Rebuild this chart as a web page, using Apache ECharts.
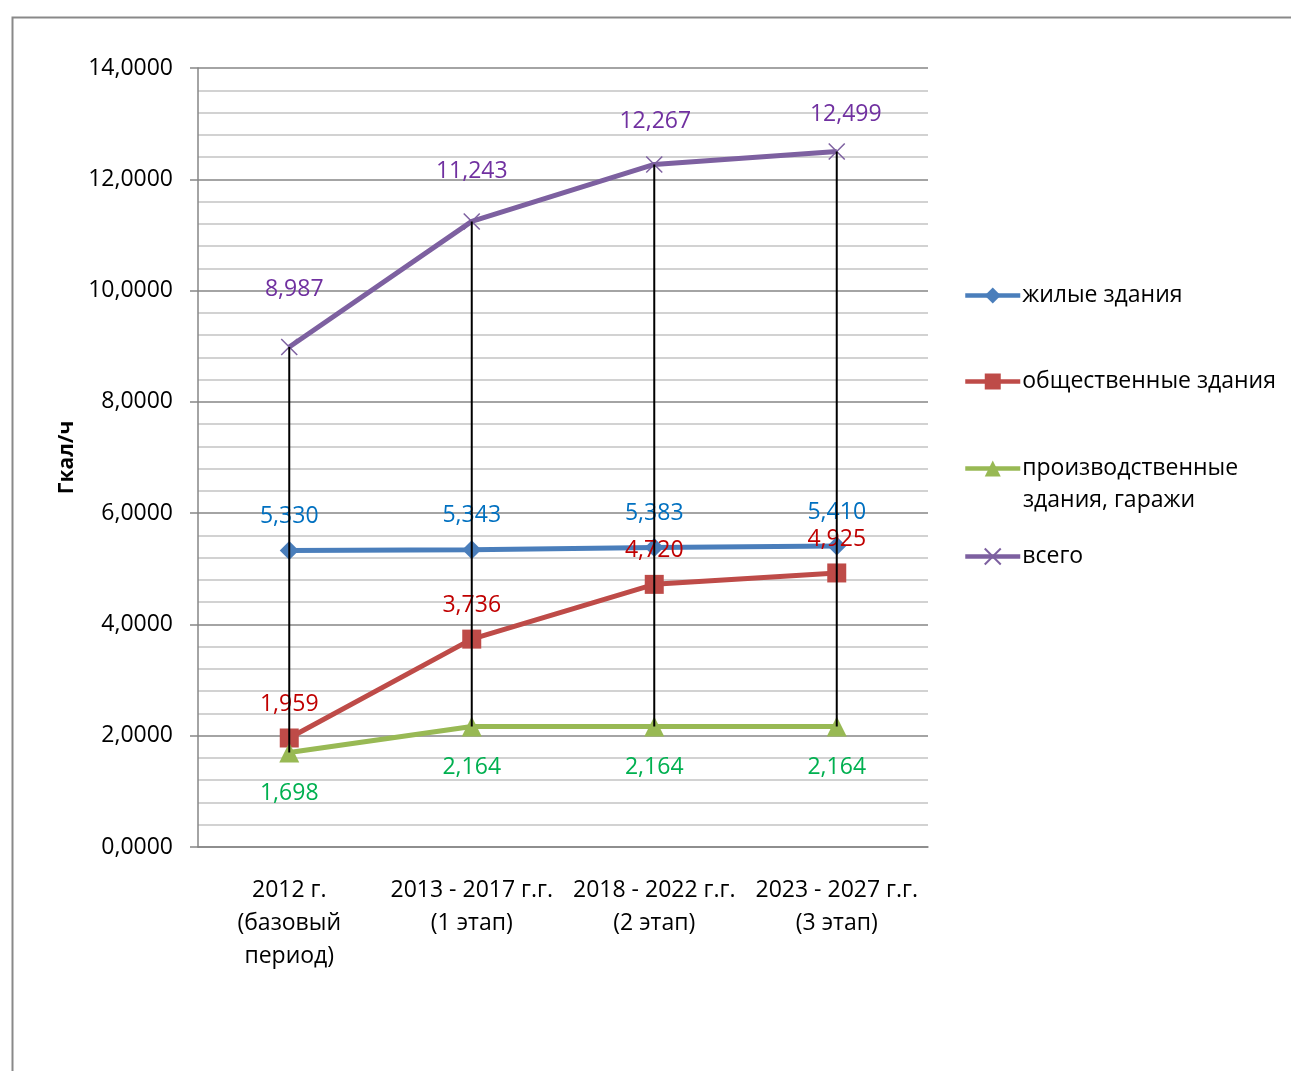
<!DOCTYPE html>
<html>
<head>
<meta charset="utf-8">
<script src="https://cdn.jsdelivr.net/npm/echarts@6/dist/echarts.min.js"></script>
<style>
  html, body { margin: 0; padding: 0; background: #fff; }
  #chart { width: 1291px; height: 1071px; }
</style>
</head>
<body>
<div id="chart"></div>
<script>
// Тепловая нагрузка по периодам, Гкал/ч
const categories = [
  '2012 г.\n(базовый\nпериод)',
  '2013 - 2017 г.г.\n(1 этап)',
  '2018 - 2022 г.г.\n(2 этап)',
  '2023 - 2027 г.г.\n(3 этап)'
];
const residential = [5.330, 5.343, 5.383, 5.410];
const publicBuildings = [1.959, 3.736, 4.720, 4.925];
const industrial = [1.698, 2.164, 2.164, 2.164];
const total = [8.987, 11.243, 12.267, 12.499];

const seriesNames = [
  'жилые здания',
  'общественные здания',
  'производственные здания, гаражи',
  'всего'
];

// label shifts for the "всего" values
const totalLabelOffsets = [[5, -57], [0, -50], [1, -43], [9, -37]];

const FONT = '"Open Sans", "Noto Sans", sans-serif';
const FS = 23;
const fmt3 = v => v.toFixed(3).replace('.', ',');
const fmt4 = v => v.toFixed(4).replace('.', ',');

const all = [residential, publicBuildings, industrial, total];
const hiLo = categories.map((c, i) => {
  const vals = all.map(s => s[i]);
  return [i, Math.max(...vals), Math.min(...vals)];
});

function lineSeries(name, data, color, labelColor, symbol, symbolSize, offset) {
  return {
    name: name,
    type: 'line',
    data: data,
    symbol: symbol,
    symbolSize: symbolSize,
    lineStyle: { color: color, width: 5 },
    itemStyle: { color: color },
    label: {
      show: true,
      position: 'inside',
      offset: offset,
      color: labelColor,
      fontFamily: FONT,
      fontSize: FS,
      formatter: p => fmt3(p.value)
    },
    z: 3
  };
}

const legendBase = {
  orient: 'vertical',
  left: 963,
  padding: 0,
  itemWidth: 55,
  itemHeight: 20,
  itemGap: 4,
  lineStyle: { width: 4.5 },
  textStyle: { fontFamily: FONT, fontSize: FS, color: '#000', padding: [0, 0, 0, -3] },
  selectedMode: false
};

const chart = echarts.init(document.getElementById('chart'));
chart.setOption({
  animation: false,
  backgroundColor: '#fff',
  grid: { left: 198, right: 363, top: 68, bottom: 224 },
  graphic: [
    {
      type: 'rect',
      left: 10, top: 15,
      shape: { width: 1400, height: 1200 },
      style: { fill: 'none', stroke: '#898989', lineWidth: 2 },
      z: -1
    },
    {
      type: 'text',
      left: 1023, top: 489,
      style: { text: 'здания, гаражи', font: FS + 'px ' + FONT, fill: '#000' }
    }
  ],
  legend: [
    Object.assign({}, legendBase, { top: 284, data: [seriesNames[0]] }),
    Object.assign({}, legendBase, { top: 370, data: [seriesNames[1]] }),
    Object.assign({}, legendBase, { top: 457, data: [seriesNames[2]], formatter: () => 'производственные' }),
    Object.assign({}, legendBase, { top: 545, data: [seriesNames[3]] })
  ],
  xAxis: {
    type: 'category',
    data: categories,
    boundaryGap: true,
    axisLine: { lineStyle: { color: '#868686', width: 1.5 } },
    axisTick: { show: false },
    axisLabel: {
      interval: 0,
      margin: 27,
      color: '#000',
      fontFamily: FONT,
      fontSize: FS,
      lineHeight: 33
    }
  },
  yAxis: {
    type: 'value',
    min: 0,
    max: 14,
    interval: 2,
    name: 'Гкал/ч',
    nameLocation: 'middle',
    nameGap: 117,
    nameTextStyle: { fontFamily: FONT, fontSize: 21, fontWeight: 'bold', color: '#000' },
    axisLine: { show: true, lineStyle: { color: '#868686', width: 1.5 } },
    axisTick: { show: true, inside: false, length: 8, lineStyle: { color: '#868686', width: 1.5 } },
    axisLabel: {
      margin: 25,
      color: '#000',
      fontFamily: FONT,
      fontSize: FS,
      formatter: v => fmt4(v)
    },
    splitLine: { show: true, lineStyle: { color: '#868686', width: 1.5 } },
    minorTick: { show: false, splitNumber: 5 },
    minorSplitLine: { show: true, lineStyle: { color: '#c4c4c4', width: 1.5 } }
  },
  series: [
    lineSeries(seriesNames[0], residential, '#4a7ebb', '#0070c0', 'diamond', 19, [0, -34]),
    lineSeries(seriesNames[1], publicBuildings, '#be4b48', '#c00000', 'rect', 19, [0, -34]),
    lineSeries(seriesNames[2], industrial, '#98b954', '#00b050', 'triangle', 20, [0, 41]),
    Object.assign(
      lineSeries(seriesNames[3], total.map((v, i) => ({
        value: v,
        label: { offset: totalLabelOffsets[i] }
      })), '#7d60a0', '#7030a0', 'path://M0,0L10,10M10,0L0,10', 16, [0, -46]),
      {
        itemStyle: { color: '#7d60a0', borderColor: '#7d60a0', borderWidth: 1.5 }
      }
    ),
    {
      type: 'custom',
      name: 'hilo',
      silent: true,
      z: 10,
      data: hiLo,
      encode: { x: 0, y: [1, 2] },
      renderItem: (params, api) => {
        const top = api.coord([api.value(0), api.value(1)]);
        const bottom = api.coord([api.value(0), api.value(2)]);
        return {
          type: 'line',
          shape: { x1: top[0], y1: top[1], x2: bottom[0], y2: bottom[1] },
          style: { stroke: '#000', lineWidth: 2 }
        };
      }
    }
  ]
});
</script>
</body>
</html>
